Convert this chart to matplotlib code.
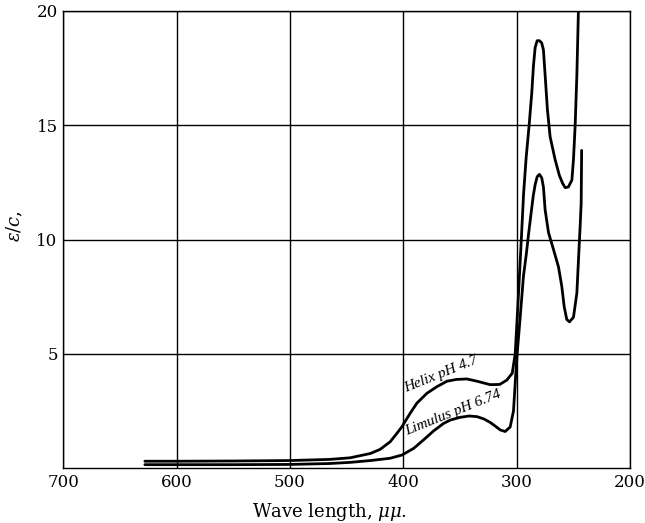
import numpy as np
import matplotlib
matplotlib.use('Agg')
import matplotlib.pyplot as plt

# wavelength (mu-mu) and extinction per concentration
helix_wl = [628, 600, 550, 500, 465, 447, 429, 420.5, 411.7, 405.7, 401.3, 394, 388.1,
            379.3, 370.5, 361.6, 353, 344, 335, 323.5, 315, 308.8, 304, 301.4, 298.5,
            296, 294, 291.7, 289.1, 286.8, 285.3, 283.8, 282, 280, 278, 276.5, 275,
            273, 270.6, 266.2, 262.4, 259.5, 257.3, 254.5, 251.4, 250, 248.5, 247, 245.6]
helix_eps = [0.3, 0.3, 0.31, 0.33, 0.38, 0.45, 0.64, 0.82, 1.15, 1.52, 1.81, 2.4, 2.84,
             3.27, 3.56, 3.8, 3.88, 3.9, 3.8, 3.65, 3.66, 3.85, 4.15, 5.0, 7.6,
             10.0, 12.0, 13.6, 15.0, 16.4, 17.6, 18.4, 18.7, 18.7, 18.6, 18.3, 17.2,
             15.7, 14.5, 13.5, 12.8, 12.45, 12.27, 12.3, 12.6, 13.5, 15.0, 17.2, 20.1]

limulus_wl = [628, 600, 550, 500, 465, 447, 429, 411.7, 401.3, 391, 382.3, 373.5, 364.7,
              358.7, 350, 342, 335, 329, 323.5, 318, 314.6, 310.2, 305.8, 302.9, 301.4,
              300, 297, 294.1, 291.5, 289.7, 287.5, 285.5, 283.8, 282, 280, 278, 276.5,
              275, 272, 267.6, 263.2, 260.3, 258.2, 255.9, 253.5, 250, 247, 245.6,
              244.1, 243.2, 242.8]
limulus_eps = [0.15, 0.15, 0.15, 0.16, 0.2, 0.25, 0.33, 0.43, 0.57, 0.86, 1.23, 1.62, 1.95,
               2.1, 2.22, 2.28, 2.25, 2.15, 2.0, 1.8, 1.67, 1.6, 1.8, 2.5, 3.7,
               4.8, 6.6, 8.4, 9.4, 10.2, 11.1, 11.9, 12.4, 12.75, 12.85, 12.7, 12.3,
               11.3, 10.3, 9.56, 8.8, 7.95, 7.07, 6.5, 6.4, 6.6, 7.66, 9.1,
               10.6, 11.6, 13.9]

xticks = [700, 600, 500, 400, 300, 200]
yticks = [5, 10, 15, 20]

plt.rcParams['font.family'] = 'DejaVu Serif'
plt.rcParams['mathtext.fontset'] = 'dejavuserif'

fig = plt.figure(figsize=(6.45, 5.23), dpi=100)
ax = fig.add_axes([0.098, 0.105, 0.879, 0.874])

ax.plot(helix_wl, helix_eps, color='black', lw=2.0, solid_capstyle='round',
        solid_joinstyle='round')
ax.plot(limulus_wl, limulus_eps, color='black', lw=2.0, solid_capstyle='round',
        solid_joinstyle='round')

ax.set_xlim(700, 200)
ax.set_ylim(0, 20)
ax.set_xticks(xticks)
ax.set_yticks(yticks)
ax.tick_params(length=0, labelsize=12, pad=4)
ax.grid(True, color='black', lw=1.0)
for s in ax.spines.values():
    s.set_linewidth(1.0)

ax.set_xlabel(r'Wave length, $\mu\mu$.', fontsize=13)
ax.xaxis.set_label_coords(0.47, -0.072)
ax.set_ylabel(r'$\epsilon/c,$', fontsize=13)
ax.yaxis.set_label_coords(-0.068, 0.53)

ax.text(398, 3.3, 'Helix pH 4.7', rotation=22, rotation_mode='anchor',
        style='italic', family='Liberation Serif', fontsize=11,
        ha='left', va='baseline')
ax.text(397, 1.45, 'Limulus pH 6.74', rotation=22, rotation_mode='anchor',
        style='italic', family='Liberation Serif', fontsize=11,
        ha='left', va='baseline')

plt.savefig('out.png', dpi=100)
